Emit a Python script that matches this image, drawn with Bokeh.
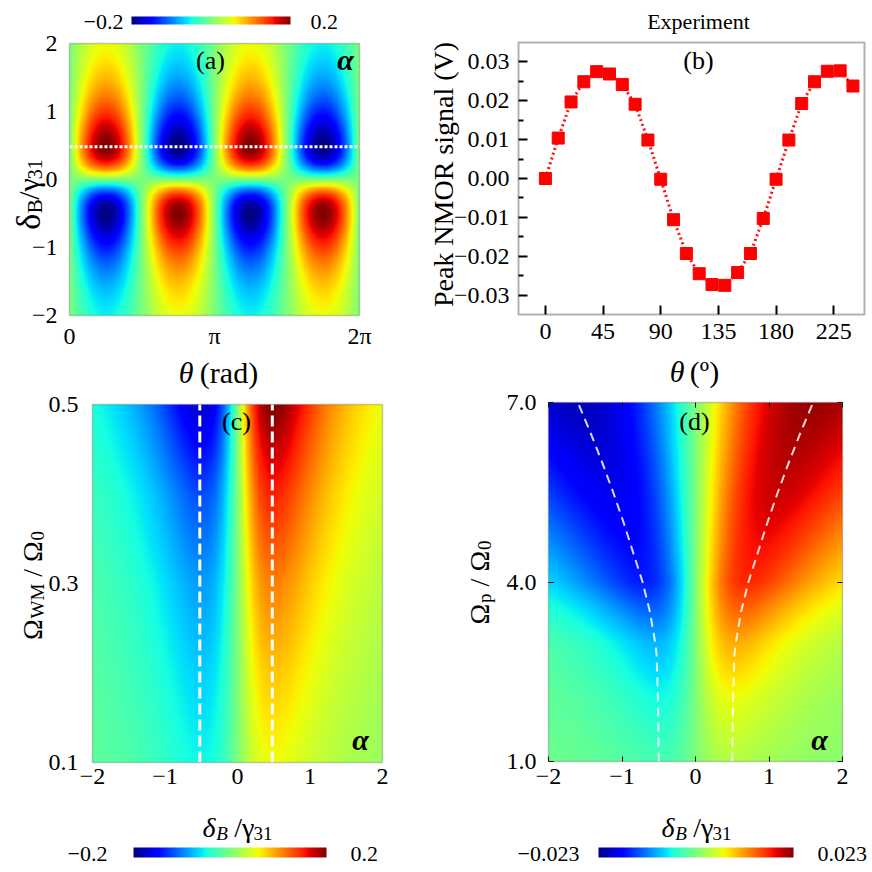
import numpy as np
from bokeh.plotting import figure
from bokeh.layouts import row
from bokeh.models import (Range1d, LinearColorMapper, ColorBar, Label, FixedTicker,
                          LinearAxis, BoxAnnotation)
from bokeh.embed import file_html
from bokeh.resources import INLINE

FONT = "Liberation Serif"

# ---------------- data ----------------
# panel (a): simulated map versus polarisation angle theta and detuning
a_theta_lim = [0.0, 2 * np.pi]
a_delta_lim = [-2.0, 2.0]
a_color_lim = [-0.2, 0.2]
a_peak_value = 0.2
a_peak_delta = 0.5
a_cut_delta = 0.48
a_xticks = [0.0, np.pi, 2 * np.pi]
a_xtick_labels = ["0", "π", "2π"]
a_yticks = [-2, -1, 0, 1, 2]

# panel (b): experiment
b_theta = [0, 10, 20, 30, 40, 50, 60, 70, 80, 90, 100, 110, 120,
           130, 140, 150, 160, 170, 180, 190, 200, 210, 220, 230, 240]
b_signal = [0.0000, 0.0104, 0.0197, 0.0249, 0.0275, 0.0269, 0.0242, 0.0191, 0.0099,
            -0.0002, -0.0106, -0.0193, -0.0245, -0.0273, -0.0275, -0.0242, -0.0193,
            -0.0103, -0.0002, 0.0099, 0.0193, 0.0249, 0.0276, 0.0277, 0.0238]
b_theta_lim = [-21, 249]
b_signal_lim = [-0.035, 0.035]
b_xticks = [0, 45, 90, 135, 180, 225]
b_yticks = [-0.03, -0.02, -0.01, 0.0, 0.01, 0.02, 0.03]
b_yminor = [-0.025, -0.015, -0.005, 0.005, 0.015, 0.025]

# panel (c): map versus detuning and four-wave-mixing field
c_delta_lim = [-2.0, 2.0]
c_omega_lim = [0.1, 0.5]
c_color_lim = [-0.2, 0.2]
c_omega_levels = [0.1, 0.2, 0.3, 0.4, 0.5]
c_peak_pos = [0.055, 0.080, 0.110, 0.150, 0.200]
c_peak_neg = [0.052, 0.068, 0.088, 0.120, 0.175]
c_peak_delta = 0.5
c_dash_delta = [-0.52, 0.48]
c_xticks = [-2, -1, 0, 1, 2]
c_yticks = [0.1, 0.3, 0.5]

# panel (d): map versus detuning and probe field
d_delta_lim = [-2.0, 2.0]
d_omega_lim = [1.0, 7.0]
d_color_lim = [-0.023, 0.023]
d_omega_levels = [1.0, 2.0, 3.0, 4.0, 5.5, 7.0]
d_peak_pos = [0.0030, 0.0060, 0.0105, 0.0170, 0.0200, 0.0220]
d_peak_neg = [0.0030, 0.0055, 0.0090, 0.0160, 0.0185, 0.0205]
d_ridge_omega = [1.0, 2.0, 2.8, 3.0, 3.5, 4.0, 4.5, 5.0, 5.5, 6.0, 6.5, 7.0]
d_ridge_delta = [0.50, 0.51, 0.53, 0.55, 0.62, 0.72, 0.85, 0.98, 1.12, 1.27, 1.43, 1.60]
d_xticks = [-2, -1, 0, 1, 2]
d_yticks = [1.0, 4.0, 7.0]


# ---------------- helpers ----------------
def jet(n=256):
    t = np.linspace(0, 1, n)
    r = np.interp(t, [0, 0.35, 0.66, 0.89, 1], [0, 0, 1, 1, 0.5])
    g = np.interp(t, [0, 0.125, 0.375, 0.64, 0.91, 1], [0, 0, 1, 1, 0, 0])
    b = np.interp(t, [0, 0.11, 0.34, 0.65, 1], [0.5, 1, 1, 0, 0])
    return ["#%02x%02x%02x" % (int(round(255 * a)), int(round(255 * c)), int(round(255 * d)))
            for a, c, d in zip(r, g, b)]


JET = jet()


def lineshape(u):
    # dispersive profile normalised to 1 at u = 1
    return u * 3 ** 1.5 / (u * u + 2) ** 1.5


def minus(s):
    return s.replace("-", "−")


W = {'δ': 0.49, 'B': 0.64, '/': 0.278, 'γ': 0.41, '3': 0.5, '1': 0.5, 'Ω': 0.77,
     'W': 0.944, 'M': 0.889, '0': 0.5, 'p': 0.5, ' ': 0.25, 'θ': 0.5, '(': 0.333,
     ')': 0.333, 'r': 0.333, 'a': 0.444, 'd': 0.5, 'º': 0.31}


def twidth(s, size):
    return sum(W.get(c, 0.5) for c in s) * size


class Column:
    """A figure covering one column of the page; its frame is its whole canvas."""

    def __init__(self, ox, width, height=872):
        self.ox, self.oy, self.w, self.h = ox, 0, width, height
        p = figure(width=width, height=height, x_range=Range1d(0, width),
                   y_range=Range1d(0, height), output_backend="svg",
                   toolbar_location=None, x_axis_type=None, y_axis_type=None,
                   min_border=0)
        p.outline_line_color = None
        p.background_fill_color = "white"
        p.border_fill_color = "white"
        self.p = p


class Panel:
    """One panel drawn in a column figure through its own named x/y ranges."""

    def __init__(self, col, name, box, xlim, ylim):
        self.p, self.n = col.p, name
        self.ox, self.oy, self.w, self.h = col.ox, col.oy, col.w, col.h
        left, top, right, bottom = box  # page pixels of the data box
        sx = (xlim[1] - xlim[0]) / (right - left)
        sy = (ylim[1] - ylim[0]) / (bottom - top)
        self.p.extra_x_ranges[name] = Range1d(xlim[0] - (left - self.ox) * sx,
                                              xlim[1] + (self.ox + self.w - right) * sx)
        self.p.extra_y_ranges[name] = Range1d(ylim[0] - (self.oy + self.h - bottom) * sy,
                                              ylim[1] + (top - self.oy) * sy)
        self.xlim, self.ylim = xlim, ylim
        self.kw = dict(x_range_name=name, y_range_name=name)

    def sx(self, x):
        return x - self.ox

    def sy(self, y):
        return self.oy + self.h - y

    def frame(self, color="#505050", width=1.5):
        self.p.add_layout(BoxAnnotation(left=self.xlim[0], right=self.xlim[1],
                                        bottom=self.ylim[0], top=self.ylim[1],
                                        fill_color=None, fill_alpha=0,
                                        line_color=color, line_width=width, **self.kw))

    def axis(self, side, ticks, labels, standoff, tick_in=0, tick_width=1,
             minor=None, font_size="24px"):
        loc = {"left": self.xlim[0], "right": self.xlim[1],
               "below": self.ylim[0], "above": self.ylim[1]}[side]
        ticker = FixedTicker(ticks=[float(t) for t in ticks],
                             minor_ticks=[float(t) for t in (minor or [])])
        ax = LinearAxis(fixed_location=loc, ticker=ticker,
                        major_label_overrides={float(t): l for t, l in zip(ticks, labels)},
                        major_label_text_font=FONT, major_label_text_font_size=font_size,
                        major_label_text_color="black", major_label_standoff=standoff,
                        axis_line_color=None, major_tick_out=0, major_tick_in=tick_in,
                        major_tick_line_color="black" if tick_in else None,
                        major_tick_line_width=tick_width,
                        minor_tick_in=5, minor_tick_out=0, minor_tick_line_width=tick_width,
                        minor_tick_line_color="black" if minor else None, **self.kw)
        self.p.add_layout(ax, side)
        return ax

    def label(self, text, x, y, size=24, align="center", baseline="middle",
              style="normal", angle=0.0):
        self.p.add_layout(Label(x=self.sx(x), y=self.sy(y), x_units="screen",
                                y_units="screen", text=text, text_font=FONT,
                                text_font_size=f"{size}px", text_font_style=style,
                                text_color="black", text_align=align,
                                text_baseline=baseline, angle=angle))

    def rich(self, pieces, cx, cy, vertical=False):
        # pieces: (text, size, style, baseline shift, gap before in px)
        total = sum(twidth(pc[0], pc[1]) + (pc[4] if len(pc) > 4 else 0) for pc in pieces)
        pos = -total / 2
        for pc in pieces:
            t, s, style, shift = pc[:4]
            pos += pc[4] if len(pc) > 4 else 0
            if vertical:
                self.label(t, cx + shift, cy - pos, s, "left", "alphabetic", style, np.pi / 2)
            else:
                self.label(t, cx + pos, cy + shift, s, "left", "alphabetic", style)
            pos += twidth(t, s)

    def colorbar(self, mapper, left, top, right, bottom, lo_text, hi_text,
                 lo_right, hi_left, size=22):
        cb = ColorBar(color_mapper=mapper, orientation="horizontal",
                      location=(self.sx(left), self.sy(bottom)),
                      width=right - left, height=bottom - top, padding=0, margin=0,
                      ticker=FixedTicker(ticks=[]), major_tick_line_color=None,
                      minor_tick_line_color=None, bar_line_color=None,
                      border_line_color=None, background_fill_alpha=0,
                      label_standoff=0, major_label_text_font_size="0px")
        self.p.add_layout(cb)
        ym = (top + bottom) / 2 + 1
        self.label(lo_text, lo_right, ym, size, "right", "middle")
        self.label(hi_text, hi_left, ym, size, "left", "middle")

    def heatmap(self, field, xlim, ylim, mapper):
        self.p.image(image=[field], x=xlim[0], y=ylim[0], dw=xlim[1] - xlim[0],
                     dh=ylim[1] - ylim[0], color_mapper=mapper, **self.kw)


SPLIT = 410
left_col = Column(0, SPLIT)
right_col = Column(SPLIT, 872 - SPLIT)

# ---------------- panel (a) ----------------
A = Panel(left_col, "a", (69, 43, 359, 315), a_theta_lim, a_delta_lim)
th = np.linspace(a_theta_lim[0], a_theta_lim[1], 480)
de = np.linspace(a_delta_lim[0], a_delta_lim[1], 320)
T, D = np.meshgrid(th, de)
a_field = a_peak_value * np.sin(2 * T) * lineshape(D / a_peak_delta)
a_map = LinearColorMapper(palette=JET, low=a_color_lim[0], high=a_color_lim[1])
A.heatmap(a_field, a_theta_lim, a_delta_lim, a_map)
A.p.line(a_theta_lim, [a_cut_delta, a_cut_delta], line_color="white",
         line_width=3, line_dash="3 2", **A.kw)
A.frame()
A.axis("below", a_xticks, a_xtick_labels, 7)
A.axis("left", a_yticks, [minus(f"{t:g}") for t in a_yticks], 12)
A.label("(a)", 210, 60, 26)
A.label("α", 345, 59, 30, style="bold italic")
A.rich([("θ", 30, "italic", 0), ("(rad)", 30, "normal", 0, 6)], 218, 372)
A.rich([("δ", 34, "normal", 0), ("B", 21, "normal", 6), ("/γ", 30, "normal", 0),
        ("31", 20, "normal", 6)], 28, 194, vertical=True)
A.colorbar(a_map, 131, 16, 290, 24, minus(f"{a_color_lim[0]:g}"), f"{a_color_lim[1]:g}",
           123, 310)

# ---------------- panel (b) ----------------
B = Panel(right_col, "b", (518, 42, 864, 314), b_theta_lim, b_signal_lim)
B.p.line(b_theta, b_signal, line_color="#ff1010", line_width=3, line_dash="2 3", **B.kw)
B.p.scatter(b_theta, b_signal, marker="square", size=12, fill_color="#ff0000",
            line_color="#ff0000", **B.kw)
B.frame(color="black", width=2)
B.axis("below", b_xticks, [str(t) for t in b_xticks], 9, tick_in=9, tick_width=2)
B.axis("left", b_yticks, [minus(f"{t:.2f}") for t in b_yticks], 9, tick_in=9,
       tick_width=2, minor=b_yminor)
B.label("Experiment", 698, 21, 22)
B.label("(b)", 698, 60, 26)
B.label("Peak NMOR signal (V)", 443, 174, 28, "center", "alphabetic", angle=np.pi / 2)
B.rich([("θ", 30, "italic", 0), ("(º)", 30, "normal", 0, 5)], 694, 371)

# ---------------- panel (c) ----------------
C = Panel(left_col, "c", (92, 404, 382, 762), c_delta_lim, c_omega_lim)
dc = np.linspace(c_delta_lim[0], c_delta_lim[1], 400)
oc = np.linspace(c_omega_lim[0], c_omega_lim[1], 300)
Dc, Oc = np.meshgrid(dc, oc)
c_amp = np.where(Dc >= 0, np.interp(Oc, c_omega_levels, c_peak_pos),
                 np.interp(Oc, c_omega_levels, c_peak_neg))
c_field = c_amp * lineshape(Dc / c_peak_delta)
c_map = LinearColorMapper(palette=JET, low=c_color_lim[0], high=c_color_lim[1])
C.heatmap(c_field, c_delta_lim, c_omega_lim, c_map)
C.p.segment(x0=c_dash_delta, y0=[c_omega_lim[0]] * 2, x1=c_dash_delta,
            y1=[c_omega_lim[1]] * 2, line_color="white", line_width=3, line_dash="11 5",
            **C.kw)
C.frame()
C.axis("below", c_xticks, [minus(f"{t:g}") for t in c_xticks], 6)
C.axis("left", c_yticks, [f"{t:.1f}" for t in c_yticks], 14)
C.label("(c)", 236, 421, 26)
C.label("α", 360, 739, 30, style="bold italic")
C.rich([("δ", 28, "italic", 0), ("B", 19, "italic", 6), ("/γ", 28, "normal", 0, 6),
        ("31", 19, "normal", 6)], 237, 827)
C.rich([("Ω", 28, "normal", 0), ("WM", 19, "normal", 5), ("/ Ω", 28, "normal", 0, 7),
        ("0", 19, "normal", 5)], 32, 585, vertical=True)
C.colorbar(c_map, 133, 847, 326, 857, minus(f"{c_color_lim[0]:g}"), f"{c_color_lim[1]:g}",
           107, 350)

# ---------------- panel (d) ----------------
Dp = Panel(right_col, "d", (548, 402, 842, 761), d_delta_lim, d_omega_lim)
dd_ = np.linspace(d_delta_lim[0], d_delta_lim[1], 400)
od = np.linspace(d_omega_lim[0], d_omega_lim[1], 300)
Dd, Od = np.meshgrid(dd_, od)
d_amp = np.where(Dd >= 0, np.interp(Od, d_omega_levels, d_peak_pos),
                 np.interp(Od, d_omega_levels, d_peak_neg))
d_width = np.interp(Od, d_ridge_omega, d_ridge_delta)
d_field = d_amp * lineshape(Dd / d_width)
d_map = LinearColorMapper(palette=JET, low=d_color_lim[0], high=d_color_lim[1])
Dp.heatmap(d_field, d_delta_lim, d_omega_lim, d_map)
Dp.p.line([-v for v in d_ridge_delta], d_ridge_omega, line_color="white", line_alpha=0.85,
          line_width=2, line_dash="9 6", **Dp.kw)
Dp.p.line(d_ridge_delta, d_ridge_omega, line_color="white", line_alpha=0.85,
          line_width=2, line_dash="9 6", **Dp.kw)
Dp.frame()
Dp.axis("below", d_xticks, [minus(f"{t:g}") for t in d_xticks], 7, tick_in=5)
Dp.axis("left", d_yticks, [f"{t:.1f}" for t in d_yticks], 12, tick_in=5)
Dp.axis("right", d_yticks, ["" for _ in d_yticks], 0, tick_in=5, font_size="0px")
Dp.axis("above", d_xticks, ["" for _ in d_xticks], 0, tick_in=5, font_size="0px")
Dp.label("(d)", 694, 421, 26)
Dp.label("α", 819, 739, 30, style="bold italic")
Dp.rich([("δ", 28, "italic", 0), ("B", 19, "italic", 6), ("/γ", 28, "normal", 0, 6),
         ("31", 19, "normal", 6)], 696, 827)
Dp.rich([("Ω", 28, "normal", 0), ("p", 19, "normal", 5), ("/ Ω", 28, "normal", 0, 7),
         ("0", 19, "normal", 5)], 479, 582, vertical=True)
Dp.colorbar(d_map, 598, 847, 793, 857, minus(f"{d_color_lim[0]:g}"), f"{d_color_lim[1]:g}",
            579, 817)

layout = row(left_col.p, right_col.p)
open("out.html", "w").write(file_html(layout, INLINE, title="NMOR maps"))
